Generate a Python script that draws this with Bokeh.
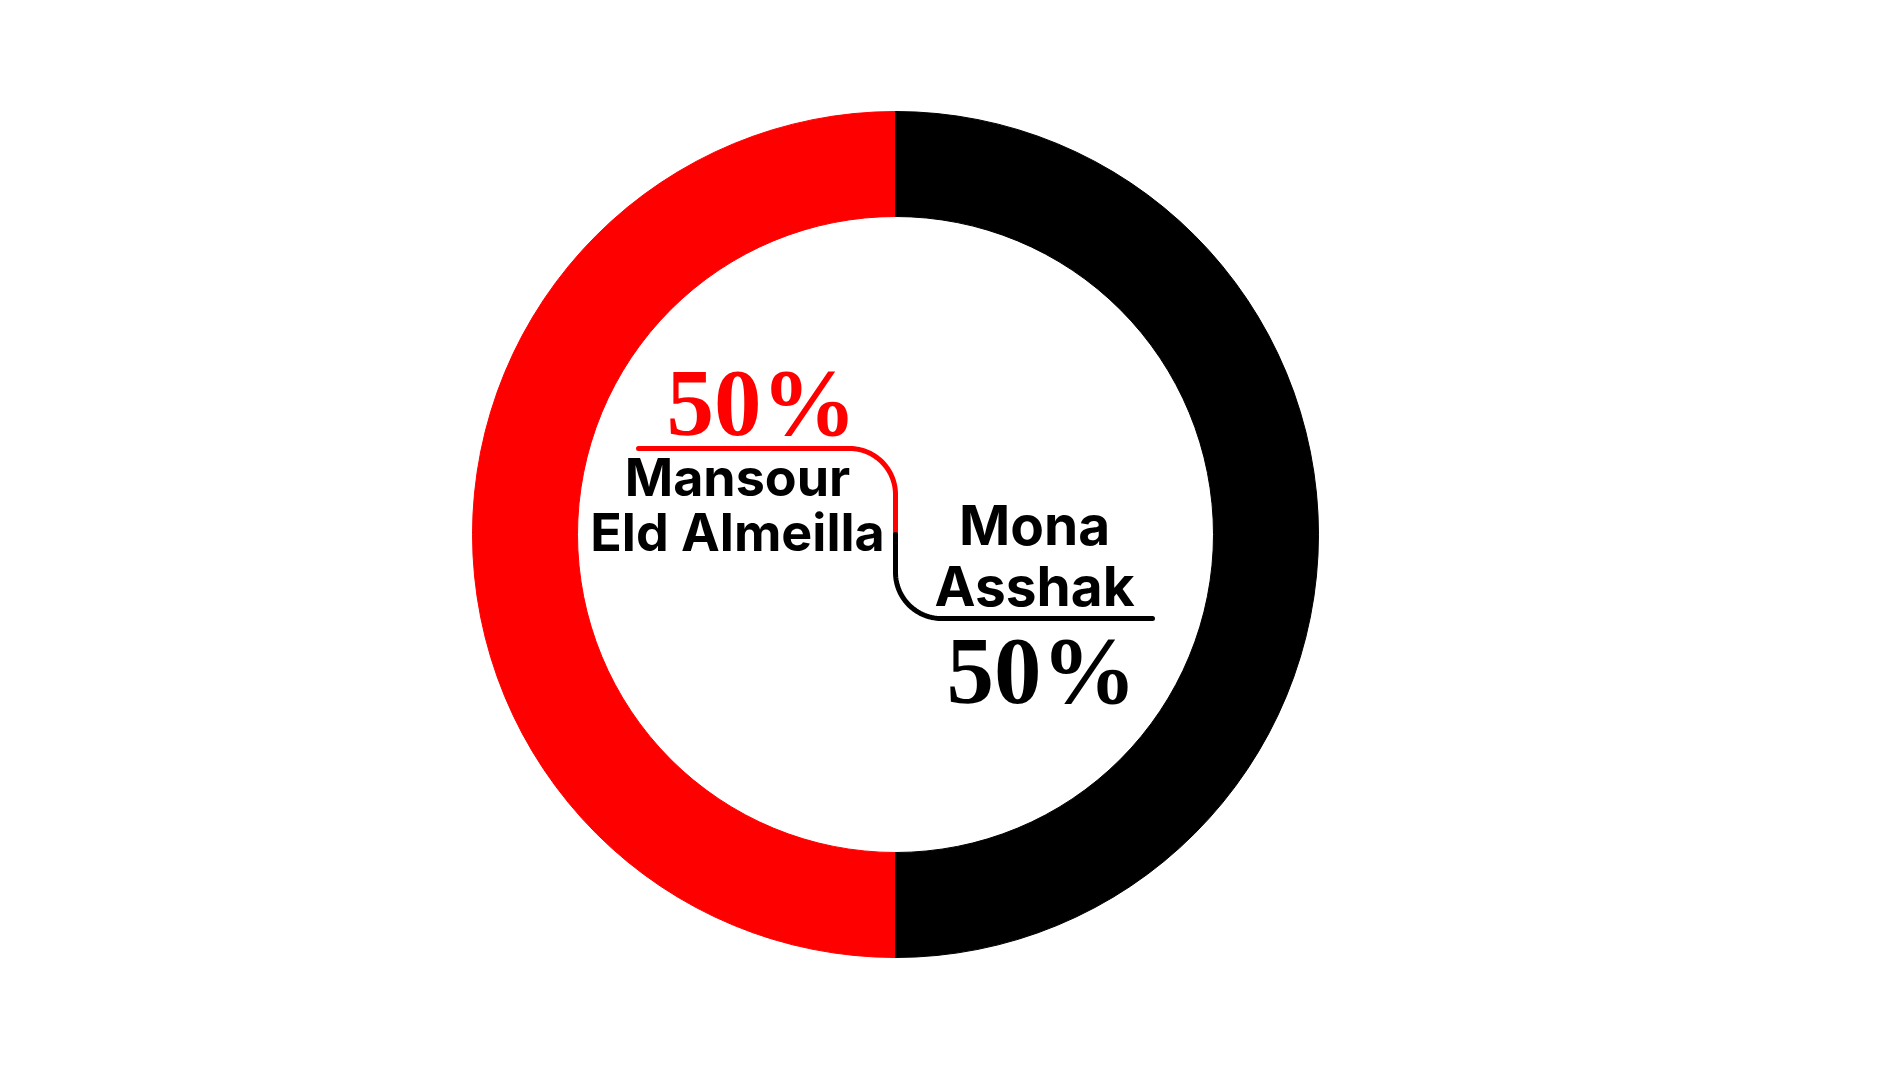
import numpy as np
from bokeh.plotting import figure
from bokeh.models import ColumnDataSource
from bokeh.core.properties import value
from bokeh.embed import file_html
from bokeh.resources import INLINE

names = ["Mansour\nEld Almeilla", "Mona\nAsshak"]
shares = [50, 50]
colors = ["#ff0000", "#000000"]

W, H = 1893, 1080
cx, cy = 895, 1080 - 534
r_out, r_in = 423, 318

p = figure(width=W, height=H, x_range=(0, W), y_range=(0, H),
           output_backend="svg", toolbar_location=None, min_border=0)
p.axis.visible = False
p.grid.visible = False
p.outline_line_color = None
p.background_fill_color = "white"
p.border_fill_color = "white"

total = sum(shares)
starts, ends = [], []
a = np.pi / 2
for s in shares:
    starts.append(a)
    a = a + 2 * np.pi * s / total
    ends.append(a)
src = ColumnDataSource(dict(x=[cx] * len(shares), y=[cy] * len(shares),
                            start=starts, end=ends, color=colors))
p.annular_wedge(x="x", y="y", inner_radius=r_in, outer_radius=r_out,
                start_angle="start", end_angle="end", color="color",
                line_color="color", source=src)

# connector lines
rc = 46
th1 = np.linspace(np.pi / 2, 0, 30)
red_x = np.concatenate([[638], cx - rc + rc * np.cos(th1), [cx]])
red_y = np.concatenate([[cy + 86], cy + 86 - rc + rc * np.sin(th1), [cy]])
p.line(red_x, red_y, line_color=colors[0], line_width=5, line_cap="round")
th2 = np.linspace(np.pi, 1.5 * np.pi, 30)
blk_x = np.concatenate([[cx], cx + rc + rc * np.cos(th2), [1152]])
blk_y = np.concatenate([[cy], cy - 84 + rc + rc * np.sin(th2), [cy - 84]])
p.line(blk_x, blk_y, line_color=colors[1], line_width=5, line_cap="round")

serif = value("Times New Roman, Liberation Serif, serif")
# percentage labels
pct = [f"{s}%" for s in shares]
p.text(x=[761], y=[H - 402], text=[pct[0]], text_color=colors[0],
       text_font=serif, text_font_style="bold",
       text_font_size="95px", text_align="center", text_baseline="alphabetic")
p.text(x=[1041], y=[H - 670], text=[pct[1]], text_color=colors[1],
       text_font=serif, text_font_style="bold",
       text_font_size="95px", text_align="center", text_baseline="alphabetic")

# name labels
l0 = names[0].split("\n")
l1 = names[1].split("\n")
p.text(x=[737, 737], y=[H - 477, H - 532], text=l0, text_color="black",
       text_font=value("Inter"), text_font_style="bold",
       text_font_size="52px", text_align="center", text_baseline="alphabetic")
p.text(x=[1034, 1034], y=[H - 524, H - 585], text=l1, text_color="black",
       text_font=value("Inter"), text_font_style="bold",
       text_font_size="55px", text_align="center", text_baseline="alphabetic")

open("out.html", "w").write(file_html(p, INLINE))
